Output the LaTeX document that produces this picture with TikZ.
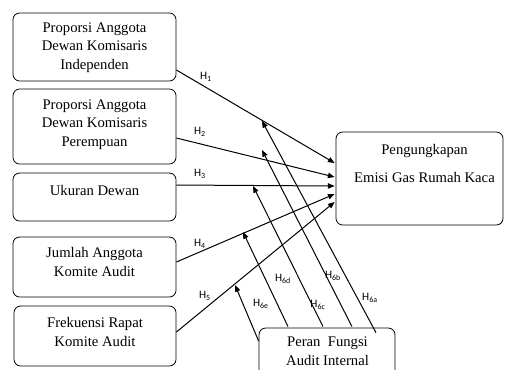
\documentclass[tikz,border=0pt]{standalone}
\usepackage{fontspec}
\setmainfont{Liberation Serif}
\newfontfamily\labfont{Carlito}
\usetikzlibrary{arrows.meta,calc}
\begin{document}
\begin{tikzpicture}[x=0.75pt,y=-0.75pt,
  box/.style={draw=black,line width=0.6pt,rounded corners=5pt,inner sep=0pt},
  txt/.style={align=center,font=\fontsize{11}{14}\selectfont,inner sep=0pt},
  arr/.style={line width=0.75pt,-{Triangle[length=5pt,width=4pt]}},
  hl/.style={font=\labfont\fontsize{8.5}{10}\selectfont,inner sep=0pt}]
\useasboundingbox (0,0) rectangle (505,369);
\clip (0,0) rectangle (505,369);
% boxes
\node[box,minimum width=163*0.75pt,minimum height=68*0.75pt] (b1) at (94.5,47) {};
\node[box,minimum width=163*0.75pt,minimum height=75*0.75pt] (b2) at (94.5,126.5) {};
\node[box,minimum width=163*0.75pt,minimum height=48*0.75pt] (b3) at (94.5,197) {};
\node[box,minimum width=163*0.75pt,minimum height=60*0.75pt] (b4) at (94.5,267) {};
\node[box,minimum width=162*0.75pt,minimum height=60*0.75pt] (b5) at (95,336) {};
\node[box,minimum width=167*0.75pt,minimum height=93*0.75pt] (R) at (419.5,178.5) {};
\node[box,minimum width=136*0.75pt,minimum height=62*0.75pt] (P) at (327,359) {};
% texts
\node[txt] (t1) at (94.5,47.5) {Proporsi Anggota\\Dewan Komisaris\\Independen};
\node[txt] (t2) at (94.5,124.5) {Proporsi Anggota\\Dewan Komisaris\\Perempuan};
\node[txt] (t3) at (94.5,190) {Ukuran Dewan};
\node[txt] (t4) at (94.5,262) {Jumlah Anggota\\Komite Audit};
\node[txt] (t5) at (95,332) {Frekuensi Rapat\\Komite Audit};
\node[txt,font=\fontsize{11}{21}\selectfont] (tR) at (424.5,163) {Pengungkapan\\Emisi Gas Rumah Kaca};
\node[txt] (tP) at (327.5,351.5) {Peran\ \ Fungsi\\Audit Internal};
% main arrows
\draw[arr] ($(b1.east)+(0,23)$) -- ($(R.west)+(-1,-15.5)$);
\draw[arr] ($(b2.east)+(0,11.5)$) -- ($(R.west)+(-1,-1.5)$);
\draw[arr] ($(b3.east)+(0,-12)$) -- ($(R.west)+(-1,7.5)$);
\draw[arr] ($(b4.east)+(0,-5)$) -- ($(R.west)+(-1,15.5)$);
\draw[arr] ($(b5.east)+(0,-4)$) -- ($(R.west)+(-1,23.5)$);
% moderation targets
\coordinate (m1) at (262,121);
\coordinate (m2) at (262,150);
\coordinate (m3) at (253,186);
\coordinate (m4) at (243,232);
\coordinate (m5) at (235,285);
\draw[arr] ($(P.north)+(49,5)$) -- (m1);
\draw[arr] ($(P.north)+(25,-1)$) -- (m2);
\draw[arr] ($(P.north)+(-4,-1)$) -- (m3);
\draw[arr] ($(P.north)+(-39,-1)$) -- (m4);
\draw[arr] ($(P.west)+(0,-18)$) -- (m5);
% labels
\node[hl] (h1) at (206,77) {H\textsubscript{1}};
\node[hl] (h2) at (200,132) {H\textsubscript{2}};
\node[hl] (h3) at (200,174) {H\textsubscript{3}};
\node[hl] (h4) at (200,244) {H\textsubscript{4}};
\node[hl] (h5) at (205,296) {H\textsubscript{5}};
\node[hl] (h6a) at (370,298) {H\textsubscript{6a}};
\node[hl] (h6b) at (333,276) {H\textsubscript{6b}};
\node[hl] (h6c) at (318,305) {H\textsubscript{6c}};
\node[hl] (h6d) at (283,279) {H\textsubscript{6d}};
\node[hl] (h6e) at (261,304) {H\textsubscript{6e}};
\end{tikzpicture}
\end{document}
